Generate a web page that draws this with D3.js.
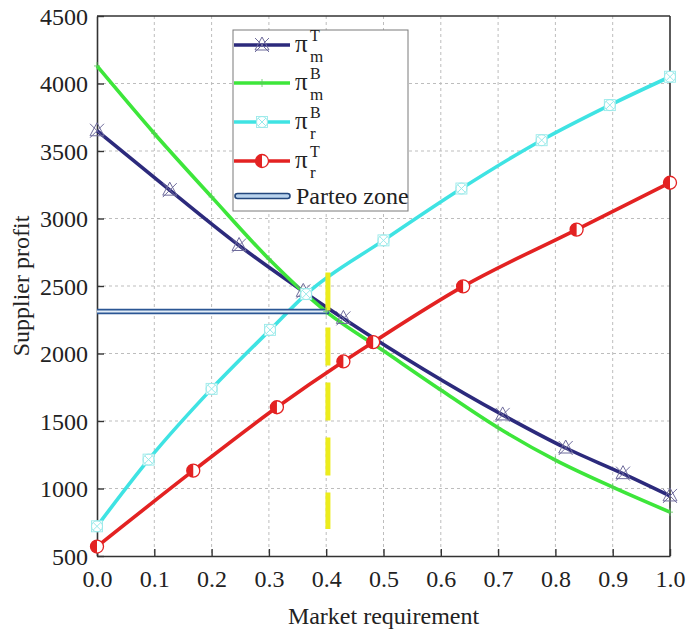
<!DOCTYPE html>
<meta charset="utf-8">
<style type="text/css">
  body { margin: 0; background: #fff; }
  svg { display: block; }
  text { font-family: "Liberation Serif", "Times New Roman", serif; fill: #222; }
</style>
<body>
<script src="https://cdn.jsdelivr.net/npm/d3@7"></script>
<script>
// values
var xTicks = [0, 0.1, 0.2, 0.3, 0.4, 0.5, 0.6, 0.7, 0.8, 0.9, 1.0];
var yTicks = [500, 1000, 1500, 2000, 2500, 3000, 3500, 4000, 4500];

var piMT_x = [0, 0.127, 0.248, 0.36, 0.43, 0.708, 0.818, 0.918, 1.0];
var piMT_y = [3650, 3210, 2800, 2460, 2260, 1545, 1300, 1110, 945];

var piMB_x = [0, 0.1, 0.2, 0.3, 0.4, 0.5, 0.6, 0.7, 0.8, 0.9, 1.0];
var piMB_y = [4130, 3630, 3160, 2700, 2310, 2020, 1730, 1450, 1210, 1010, 825];

var piRB_x = [0, 0.09, 0.2, 0.302, 0.365, 0.5, 0.636, 0.776, 0.895, 1.0];
var piRB_y = [720, 1214, 1738, 2175, 2440, 2838, 3222, 3580, 3840, 4050];

var piRT_x = [0, 0.168, 0.314, 0.43, 0.482, 0.639, 0.837, 1.0];
var piRT_y = [570, 1132, 1602, 1941, 2084, 2497, 2918, 3265];

var pareto_x = [0, 0.405];
var pareto_y = 2312;
var yellow_x = 0.403;
var yellow_y = [700, 2600];

var series = [
  {key: "mT", sub: "m", sup: "T", xs: piMT_x, ys: piMT_y, color: "#2c2a7c", marker: "starTri"},
  {key: "mB", sub: "m", sup: "B", xs: piMB_x, ys: piMB_y, color: "#3de63a", marker: "plus"},
  {key: "rB", sub: "r", sup: "B", xs: piRB_x, ys: piRB_y, color: "#3fe3e3", marker: "circX"},
  {key: "rT", sub: "r", sup: "T", xs: piRT_x, ys: piRT_y, color: "#e32222", marker: "half"}
];

var margin = {top: 16, right: 17, bottom: 79, left: 97},
    width  = 687 - margin.left - margin.right,
    height = 635 - margin.top - margin.bottom;

var svg = d3.select("body").append("svg")
  .attr("width", 687)
  .attr("height", 635);

var chart = svg.append("g")
  .attr("transform", "translate(" + margin.left + "," + margin.top + ")");

var x = d3.scaleLinear().domain([0, 1]).range([0, width]);
var y = d3.scaleLinear().domain([500, 4500]).range([height, 0]);

// grid
chart.append("g").selectAll("line")
  .data(xTicks.slice(1, -1)).enter().append("line")
  .attr("x1", function(d){ return x(d); }).attr("x2", function(d){ return x(d); })
  .attr("y1", 0).attr("y2", height)
  .attr("stroke", "#bdbdbd").attr("stroke-width", 1).attr("stroke-dasharray", "3,3");
chart.append("g").selectAll("line")
  .data(yTicks.slice(1, -1)).enter().append("line")
  .attr("y1", function(d){ return y(d); }).attr("y2", function(d){ return y(d); })
  .attr("x1", 0).attr("x2", width)
  .attr("stroke", "#bdbdbd").attr("stroke-width", 1).attr("stroke-dasharray", "3,3");

// axes (ticks inside)
var xAxis = chart.append("g")
  .attr("transform", "translate(0," + height + ")")
  .call(d3.axisBottom(x).tickValues(xTicks).tickFormat(d3.format(".1f")).tickSizeInner(-7).tickSizeOuter(0).tickPadding(14));
var yAxis = chart.append("g")
  .call(d3.axisLeft(y).tickValues(yTicks).tickFormat(d3.format("d")).tickSizeInner(-7).tickSizeOuter(0).tickPadding(9));

[xAxis, yAxis].forEach(function(a){
  a.select(".domain").attr("stroke", "#333").attr("stroke-width", 1.6);
  a.selectAll(".tick line").attr("stroke", "#333").attr("stroke-width", 1.4);
  a.selectAll(".tick text").style("font-size", "24px").attr("fill", "#222")
    .style("font-family", "'Liberation Serif', serif");
});
yAxis.selectAll(".tick text").attr("dy", "0.35em");

// frame top / right
chart.append("line").attr("x1", 0).attr("x2", width).attr("y1", 0).attr("y2", 0)
  .attr("stroke", "#333").attr("stroke-width", 1.6);
chart.append("line").attr("x1", width).attr("x2", width).attr("y1", 0).attr("y2", height)
  .attr("stroke", "#333").attr("stroke-width", 1.6);

// axis titles
svg.append("text")
  .attr("x", margin.left + width / 2).attr("y", 624)
  .attr("text-anchor", "middle").style("font-size", "24px")
  .text("Market requirement");
svg.append("text")
  .attr("transform", "translate(29," + (margin.top + height / 2) + ") rotate(-90)")
  .attr("text-anchor", "middle").style("font-size", "24px")
  .text("Supplier profit");

// lines
var line = d3.line()
  .x(function(d){ return x(d[0]); })
  .y(function(d){ return y(d[1]); })
  .curve(d3.curveMonotoneX);

series.forEach(function(s){
  s.pts = s.xs.map(function(v, i){ return [v, s.ys[i]]; });
});

// draw markers
function drawMarker(g, type, color, cx, cy) {
  var m = g.append("g").attr("transform", "translate(" + cx + "," + cy + ")");
  if (type === "starTri") {
    var c = "#6f6c9c";
    m.append("path").attr("d", "M0,-8L7,5L-7,5Z").attr("fill", "none").attr("stroke", c).attr("stroke-width", 1);
    m.append("path").attr("d", "M-7,-7L7,7M7,-7L-7,7").attr("stroke", c).attr("stroke-width", 1);
  } else if (type === "plus") {
    m.append("path").attr("d", "M-3,0L3,0M0,-4L0,4").attr("stroke", "#5cc85a").attr("stroke-width", 0.8);
  } else if (type === "circX") {
    var c2 = "#9aeaea";
    m.append("rect").attr("x", -5.5).attr("y", -5.5).attr("width", 11).attr("height", 11)
      .attr("fill", "#fff").attr("stroke", c2).attr("stroke-width", 0.9);
    m.append("circle").attr("r", 5.5).attr("fill", "none").attr("stroke", c2).attr("stroke-width", 1);
    m.append("path").attr("d", "M-4,-4L4,4M4,-4L-4,4").attr("stroke", c2).attr("stroke-width", 1);
  } else if (type === "half") {
    m.append("circle").attr("r", 6.5).attr("fill", "#fff").attr("stroke", color).attr("stroke-width", 1.3);
    m.append("path").attr("d", "M0,-6.5A6.5,6.5 0 0,0 0,6.5Z").attr("fill", color);
  }
}

var plot = chart.append("g");
series.forEach(function(s){
  plot.append("path")
    .datum(s.pts)
    .attr("fill", "none")
    .attr("stroke", s.color)
    .attr("stroke-width", 3.6)
    .attr("d", line);
});

// pareto zone double line
plot.append("line")
  .attr("x1", x(pareto_x[0])).attr("x2", x(pareto_x[1]))
  .attr("y1", y(pareto_y)).attr("y2", y(pareto_y))
  .attr("stroke", "#2b5694").attr("stroke-width", 5.5);
plot.append("line")
  .attr("x1", x(pareto_x[0])).attr("x2", x(pareto_x[1]) - 1.5)
  .attr("y1", y(pareto_y)).attr("y2", y(pareto_y))
  .attr("stroke", "#e4eef8").attr("stroke-width", 2);

// yellow dashed vertical
plot.append("line")
  .attr("x1", x(yellow_x)).attr("x2", x(yellow_x))
  .attr("y1", y(yellow_y[1])).attr("y2", y(yellow_y[0]))
  .attr("stroke", "#ecec1c").attr("stroke-width", 5)
  .attr("stroke-dasharray", "38,17");

series.forEach(function(s){
  s.pts.forEach(function(p){
    drawMarker(plot, s.marker, s.color, x(p[0]), y(p[1]));
  });
});

// legend
var legend = svg.append("g").attr("transform", "translate(233,30)");
legend.append("rect").attr("width", 175).attr("height", 181)
  .attr("fill", "#fff").attr("stroke", "#7a7a7a").attr("stroke-width", 1);

var rowY = [15, 53, 92, 131, 166];
series.forEach(function(s, i){
  var r = legend.append("g").attr("transform", "translate(0," + rowY[i] + ")");
  r.append("line").attr("x1", 1).attr("x2", 57).attr("y1", 0).attr("y2", 0)
    .attr("stroke", s.color).attr("stroke-width", 3.6);
  drawMarker(r, s.marker, s.color, 29, 0);
  r.append("text").attr("x", 62).attr("y", 7).style("font-size", "25px").text("\u03c0");
  r.append("text").attr("x", 77).attr("y", -4).style("font-size", "16px").text(s.sup);
  r.append("text").attr("x", 77).attr("y", 17).style("font-size", "17px").text(s.sub);
});

var pr = legend.append("g").attr("transform", "translate(0," + rowY[4] + ")");
pr.append("rect").attr("x", 2).attr("y", -2.5).attr("width", 55).attr("height", 5).attr("rx", 2.5)
  .attr("fill", "#b9d3ee").attr("stroke", "#24487e").attr("stroke-width", 1.6);
pr.append("text").attr("x", 63).attr("y", 8).style("font-size", "24px").text("Parteo zone");
</script>
</body>
